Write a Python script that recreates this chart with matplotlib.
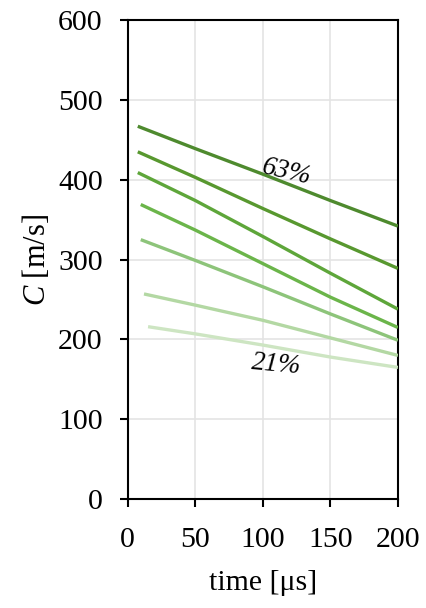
import matplotlib.pyplot as plt

# sound speed vs time, one curve per volume fraction
t1 = [7.4, 50, 100, 150, 200]
c1 = [467, 439, 407, 374, 342]
t2 = [7.4, 50, 100, 150, 200]
c2 = [435, 403, 364, 326, 289]
t3 = [7.4, 50, 100, 150, 200]
c3 = [409, 374, 329, 283, 238]
t4 = [9.6, 50, 100, 150, 200]
c4 = [369, 337, 295, 253, 215]
t5 = [9.6, 50, 100, 150, 200]
c5 = [325, 299, 266, 232, 199]
t6 = [12, 50, 100, 150, 200]
c6 = [257, 243, 224, 202, 180]
t7 = [15, 50, 100, 150, 200]
c7 = [216, 207, 193, 178, 165]

series = [(t1, c1), (t2, c2), (t3, c3), (t4, c4), (t5, c5), (t6, c6), (t7, c7)]
colors = ['#4e8a2e', '#58982f', '#5ea63a', '#6bb54a', '#8dc47a', '#b3d8a3', '#cde5c2']

plt.rcParams['font.family'] = ['Liberation Serif', 'DejaVu Serif']
plt.rcParams['mathtext.fontset'] = 'custom'
plt.rcParams['mathtext.it'] = 'Liberation Serif:italic'
plt.rcParams['mathtext.rm'] = 'Liberation Serif'

fig = plt.figure(figsize=(4.26, 6.08), dpi=100)
ax = fig.add_axes([0.300, 0.179, 0.634, 0.788])

for (t, c), col in zip(series, colors):
    ax.plot(t, c, color=col, lw=2.4, solid_capstyle='butt', zorder=3)

ax.set_xlim(0, 200)
ax.set_ylim(0, 600)
ax.set_xticks([0, 50, 100, 150, 200])
ax.set_yticks([0, 100, 200, 300, 400, 500, 600])
ax.grid(True, color='#e4e4e4', lw=1.2, zorder=0)
ax.set_axisbelow(True)

for s in ax.spines.values():
    s.set_linewidth(1.5)
    s.set_color('black')

ax.tick_params(direction='out', length=6, width=1.5, labelsize=21.5,
               top=False, right=False)
ax.tick_params(axis='x', pad=14)
ax.tick_params(axis='y', pad=12)

ax.set_xlabel('time [μs]', fontsize=21.5, labelpad=12)
ax.set_ylabel('$C$ [m/s]', fontsize=22, labelpad=4)

ax.text(118, 410, '63%', fontsize=19.5, style='italic', rotation=-13,
        ha='center', va='center', zorder=4)
ax.text(110, 168, '21%', fontsize=19.5, style='italic', rotation=-5,
        ha='center', va='center', zorder=4)

fig.savefig('out.png', dpi=100)
